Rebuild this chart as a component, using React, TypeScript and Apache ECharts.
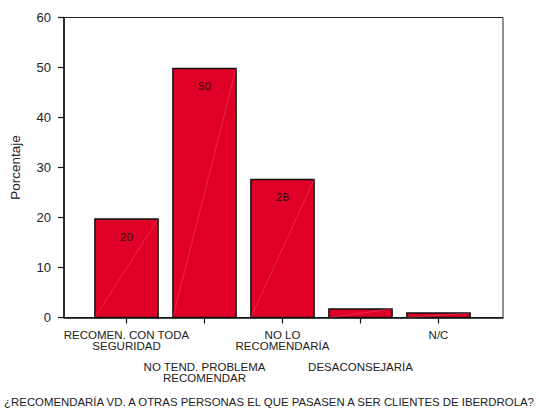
import React, { useEffect, useRef } from "react";
import * as echarts from "echarts";

const categories = [
  "RECOMEN. CON TODA\nSEGURIDAD",
  "NO TEND. PROBLEMA\nRECOMENDAR",
  "NO LO\nRECOMENDARÍA",
  "DESACONSEJARÍA",
  "N/C",
];
const values = [19.7, 49.8, 27.6, 1.7, 0.9];
const valueLabels = ["20", "50", "28", "", ""];
const yTicks = { min: 0, max: 60, interval: 10 };
const yName = "Porcentaje";
const title = "¿RECOMENDARÍA VD. A OTRAS PERSONAS EL QUE PASASEN A SER CLIENTES DE IBERDROLA?";

const FONT = "'Liberation Sans', Arial, sans-serif";

export default function App() {
  const ref = useRef<HTMLDivElement>(null);
  useEffect(() => {
    document.body.style.margin = "0";
    const chart = echarts.init(ref.current!, null, { renderer: "svg" });
    chart.setOption({
      animation: false,
      backgroundColor: "#ffffff",
      textStyle: { fontFamily: FONT },
      grid: [
        { left: 62, right: 36, top: 17.5, bottom: 92.5, show: true, borderColor: "#222", borderWidth: 1, backgroundColor: "transparent" },
        { left: 87.5, width: 390, top: 17.5, bottom: 92.5, show: false },
      ],
      xAxis: [
        { type: "value", gridIndex: 0, min: 0, max: 1, axisLine: { show: true, lineStyle: { color: "#111", width: 1.5 } }, axisTick: { show: false }, axisLabel: { show: false }, splitLine: { show: false } },
        {
          type: "category",
          gridIndex: 1,
          data: categories,
          axisLine: { show: false },
          axisTick: { show: true, alignWithLabel: true, length: 6, lineStyle: { color: "#111", width: 1.2 } },
          axisLabel: {
            interval: 0,
            margin: 12,
            fontSize: 11.5,
            lineHeight: 10.7,
            color: "#222",
            fontFamily: FONT,
            formatter: (v: string, i: number) => (i % 2 === 1 ? "\n\n\n" + v : v),
          },
        },
      ],
      yAxis: [
        {
          type: "value",
          gridIndex: 0,
          min: yTicks.min,
          max: yTicks.max,
          interval: yTicks.interval,
          name: yName,
          nameLocation: "middle",
          nameGap: 42,
          nameTextStyle: { fontSize: 13.5, color: "#222", fontFamily: FONT },
          axisLine: { show: true, lineStyle: { color: "#111", width: 1.5 } },
          axisTick: { show: true, length: 6, lineStyle: { color: "#111", width: 1.2 } },
          axisLabel: { margin: 13, fontSize: 13, color: "#222", fontFamily: FONT },
          splitLine: { show: false },
        },
        { type: "value", gridIndex: 1, min: yTicks.min, max: yTicks.max, show: false },
      ],
      series: [
        {
          type: "custom",
          xAxisIndex: 1,
          yAxisIndex: 1,
          data: values.map((v, i) => [i, v]),
          encode: { x: 0, y: 1 },
          renderItem: (params: any, api: any) => {
            const idx = api.value(0);
            const v = api.value(1);
            const top = api.coord([idx, v]);
            const base = api.coord([idx, 0]);
            const bw = api.size([1, 0])[0] * 0.81;
            const x0 = top[0] - bw / 2;
            const children: any[] = [
              {
                type: "rect",
                shape: { x: x0, y: top[1], width: bw, height: base[1] - top[1] },
                style: { fill: "#E00027", stroke: "#111", lineWidth: 1.5 },
              },
              {
                type: "line",
                shape: { x1: x0, y1: base[1], x2: x0 + bw, y2: top[1] },
                style: { stroke: "rgba(255,150,165,0.55)", lineWidth: 0.5 },
              },
            ];
            const lbl = valueLabels[idx];
            if (lbl) {
              children.push({
                type: "text",
                style: {
                  x: top[0],
                  y: top[1] + 17.5,
                  text: lbl,
                  fill: "#111",
                  font: `11.5px ${FONT}`,
                  textAlign: "center",
                  textVerticalAlign: "middle",
                },
              });
            }
            return { type: "group", children };
          },
        },
      ],
      graphic: [
        {
          type: "text",
          x: 269,
          y: 402,
          style: {
            text: title,
            fill: "#222",
            font: `11.4px ${FONT}`,
            textAlign: "center",
            textVerticalAlign: "middle",
          },
        },
      ],
    });
    return () => chart.dispose();
  }, []);
  return <div ref={ref} style={{ width: 539, height: 410 }} />;
}
